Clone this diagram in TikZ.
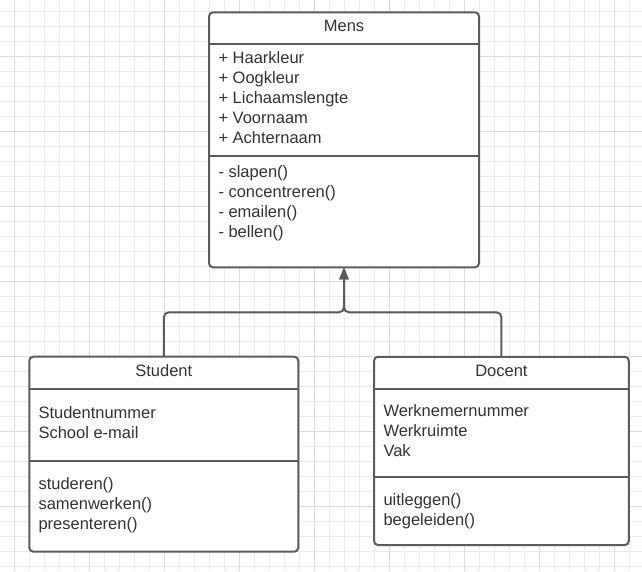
\documentclass[tikz,border=0pt]{standalone}
\usepackage{fontspec}
\setmainfont{Liberation Sans}
\usetikzlibrary{arrows.meta, positioning}
\definecolor{gridfine}{RGB}{236,236,236}
\definecolor{gridmajor}{RGB}{221,221,221}
\definecolor{umlline}{RGB}{92,92,92}
\definecolor{umltext}{RGB}{51,51,51}
\tikzset{
    umlbox/.style={draw=umlline, line width=2pt, rounded corners=4pt, fill=white, outer sep=0pt, inner sep=0pt},
    umltitle/.style={font=\fontsize{16.5}{20}\selectfont, text=umltext, inner sep=0pt, anchor=base},
    member/.style={font=\fontsize{16.5}{20}\selectfont, text=umltext, inner sep=0pt, anchor=base west},
    sepline/.style={draw=umlline, line width=2pt},
    inherit/.style={draw=umlline, line width=2pt, rounded corners=5pt, -{Triangle[length=12pt, width=9pt]}}
}

\begin{document}
\begin{tikzpicture}[x=1pt,y=-1pt]
    \useasboundingbox[fill=white] (0,0) rectangle (642,571);
    % grid
    \foreach \x in {-0.5,14.5,...,642} \draw[gridfine, line width=1pt] (\x,0) -- (\x,571);
    \foreach \y in {-4,11,...,571} \draw[gridfine, line width=1pt] (0,\y) -- (642,\y);
    \foreach \x in {14.5,89.5,...,642} \draw[gridmajor, line width=1pt] (\x,0) -- (\x,571);
    \foreach \y in {56,131,...,571} \draw[gridmajor, line width=1pt] (0,\y) -- (642,\y);

    % classes
    \node[umlbox, minimum width=270pt, minimum height=255pt] (mens) at (344,139.8) {};
    \node[umlbox, minimum width=269pt, minimum height=195pt] (student) at (163.8,454.2) {};
    \node[umlbox, minimum width=254.7pt, minimum height=188.3pt] (docent) at (501.4,450.9) {};

    \draw[sepline] ([yshift=-31.5pt]mens.north west) -- ([yshift=-31.5pt]mens.north east);
    \draw[sepline] ([yshift=-143.7pt]mens.north west) -- ([yshift=-143.7pt]mens.north east);
    \draw[sepline] ([yshift=-32.3pt]student.north west) -- ([yshift=-32.3pt]student.north east);
    \draw[sepline] ([yshift=-104pt]student.north west) -- ([yshift=-104pt]student.north east);
    \draw[sepline] ([yshift=-32.3pt]docent.north west) -- ([yshift=-32.3pt]docent.north east);
    \draw[sepline] ([yshift=-120pt]docent.north west) -- ([yshift=-120pt]docent.north east);

    \node[umltitle] (menstitle) at ([yshift=-19.5pt]mens.north) {Mens};
    \node[umltitle] (studenttitle) at ([yshift=-19.5pt]student.north) {Student};
    \node[umltitle] (docenttitle) at ([yshift=-19.5pt]docent.north) {Docent};

    % members
    \foreach \m [count=\i] in {+ Haarkleur, + Oogkleur, + Lichaamslengte, + Voornaam, + Achternaam}
        \node[member] (mensattr\i) at (218.3, {43.5+20*\i}) {\m};
    \foreach \m [count=\i] in {- slapen(), - concentreren(), - emailen(), - bellen()}
        \node[member] (mensop\i) at (218.3, {157.5+20*\i}) {\m};
    \foreach \m [count=\i] in {Studentnummer, School e-mail}
        \node[member] (studentattr\i) at (38.3, {398+20*\i}) {\m};
    \foreach \m [count=\i] in {studeren(), samenwerken(), presenteren()}
        \node[member] (studentop\i) at (38.3, {469.5+20*\i}) {\m};
    \foreach \m [count=\i] in {Werknemernummer, Werkruimte, Vak}
        \node[member] (docentattr\i) at (383.3, {396+20*\i}) {\m};
    \foreach \m [count=\i] in {uitleggen(), begeleiden()}
        \node[member] (docentop\i) at (383.3, {485+20*\i}) {\m};

    % inheritance
    \coordinate (split) at (344,312.3);
    \draw[inherit] (student.north) |- (split) -- (mens.south);
    \draw[inherit] (docent.north) |- (split) -- (mens.south);
\end{tikzpicture}
\end{document}
